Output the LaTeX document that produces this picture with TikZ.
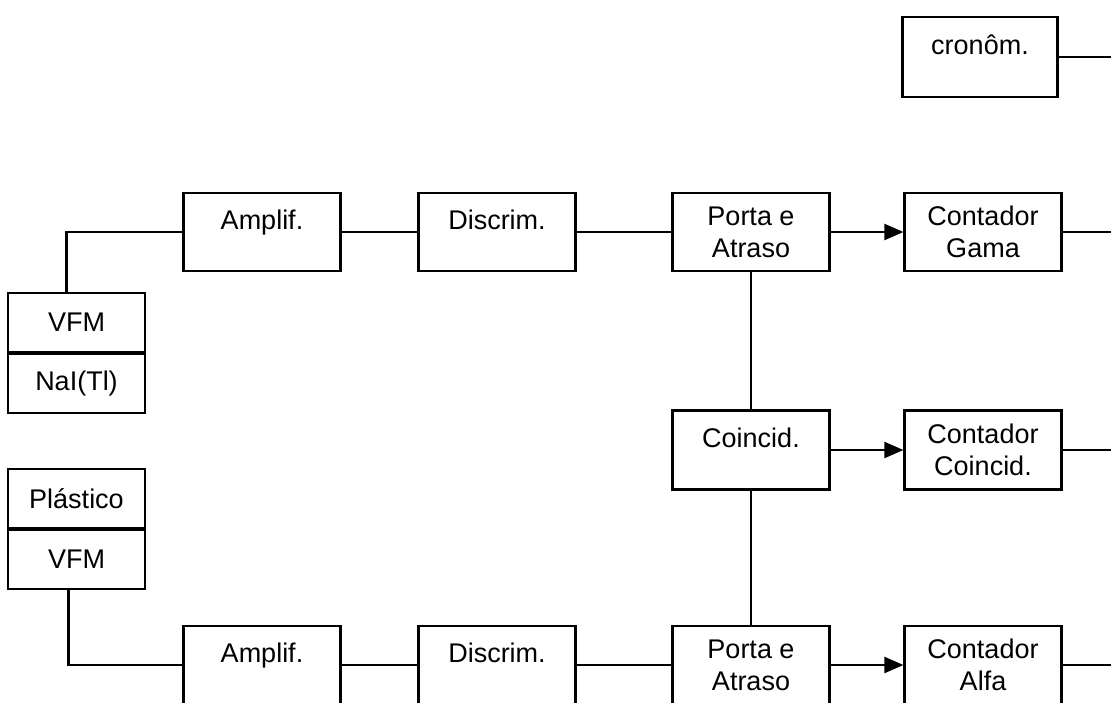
\documentclass[tikz,border=0pt]{standalone}
\usepackage{fontspec}
\setmainfont{Liberation Sans}
\usepackage{tikz}
\usetikzlibrary{positioning}
\usetikzlibrary{arrows.meta}

\begin{document}
\begin{tikzpicture}[x=1pt,y=-1pt,line width=2.2pt,
  blk/.style={draw,rectangle,minimum width=157pt,minimum height=78pt,inner sep=0pt,
    align=center,font=\fontsize{27}{32}\selectfont},
  oneline/.style={text height=18pt,text depth=24pt},
  det/.style={draw,rectangle,minimum width=137pt,minimum height=59pt,inner sep=0pt,
    font=\fontsize{27}{32}\selectfont},
  arr/.style={-{Triangle[length=19pt,width=16pt]}}]
\useasboundingbox (0,0) rectangle (1111,702);
\clip (0,0) rectangle (1111,702);
% cronometro
\node[blk,oneline,minimum width=155pt,minimum height=80pt] (crono) at (980,57) {cron\^om.};
% ramo gama
\node[det] (vfmG) at (76.5,322.5) {VFM};
\node[det,below=0pt of vfmG] (naiG) {NaI(Tl)};
\node[blk,oneline] (ampG) at (262,232) {Amplif.};
\node[blk,oneline] (disG) at (497,232) {Discrim.};
\node[blk] (porG) at (751,232) {Porta e\\Atraso};
\node[blk] (cntG) at (983,232) {Contador\\Gama};
% coincidencias
\node[blk,oneline,minimum height=79pt] (coin) at (751,450) {Coincid.};
\node[blk,minimum height=79pt] (cntC) at (983,450) {Contador\\Coincid.};
% ramo alfa
\node[det] (plas) at (76.5,498.5) {Plástico};
\node[det,below=0pt of plas] (vfmA) {VFM};
\node[blk,oneline] (ampA) at (262,665) {Amplif.};
\node[blk,oneline] (disA) at (497,665) {Discrim.};
\node[blk] (porA) at (751,665) {Porta e\\Atraso};
\node[blk] (cntA) at (983,665) {Contador\\Alfa};
% saidas
\coordinate (outT) at (1111,57);
\coordinate (outG) at (1111,232);
\coordinate (outC) at (1111,450);
\coordinate (outA) at (1111,665);

\draw ([xshift=-10pt]vfmG.north) |- (ampG.west);
\draw (ampG) -- (disG) (disG) -- (porG);
\draw[arr] (porG) -- (cntG);
\draw (cntG.east) -- (outG);
\draw (porG) -- (coin) (coin) -- (porA);
\draw[arr] (coin) -- (cntC);
\draw (cntC.east) -- (outC);
\draw ([xshift=-8pt]vfmA.south) |- (ampA.west);
\draw (ampA) -- (disA) (disA) -- (porA);
\draw[arr] (porA) -- (cntA);
\draw (cntA.east) -- (outA);
\draw (crono.east) -- (outT);
\end{tikzpicture}
\end{document}
